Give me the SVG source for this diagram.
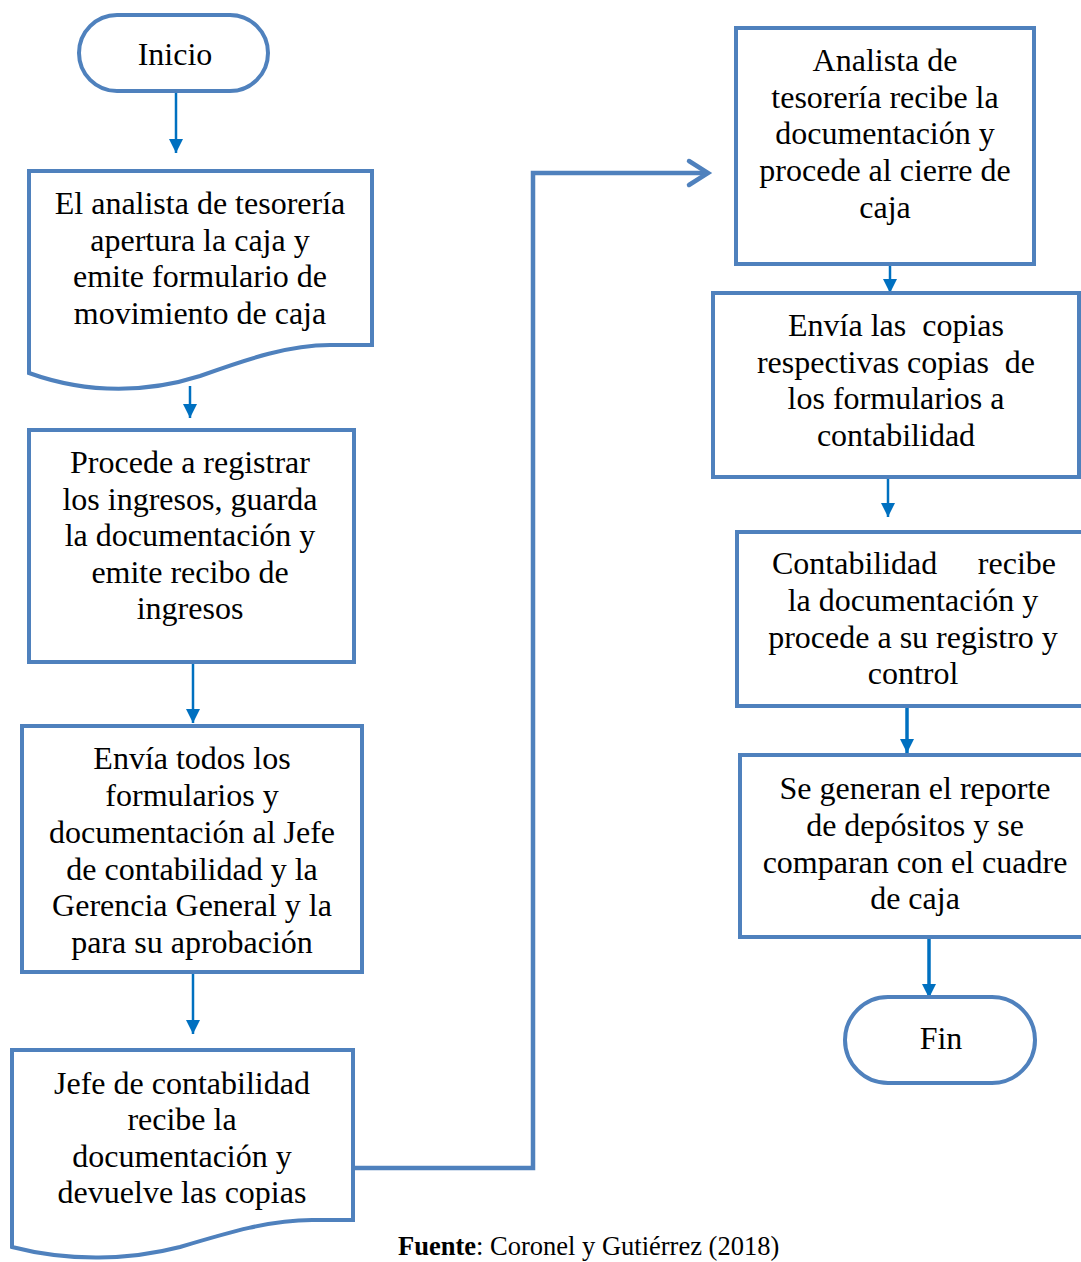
<svg xmlns="http://www.w3.org/2000/svg" width="1081" height="1262" viewBox="0 0 1081 1262">
<style>
.box{fill:#fff;stroke:#4F81BD;stroke-width:4}
.t{font-family:"Liberation Serif","Times New Roman",serif;font-size:32px;fill:#000;text-anchor:middle}
.arr{stroke:#0070C0;stroke-width:2.5;fill:none;marker-end:url(#ah)}
.arrb{stroke:#0070C0;stroke-width:3.5;fill:none;marker-end:url(#ah)}
.conn{stroke:#4F81BD;stroke-width:4.5;fill:none;stroke-linejoin:miter}
.cap{font-family:"Liberation Serif","Times New Roman",serif;font-size:26.5px;fill:#000}
</style>
<defs>
<marker id="ah" markerUnits="userSpaceOnUse" viewBox="0 0 14 14" refX="14" refY="7" markerWidth="14" markerHeight="14" orient="auto">
<path d="M0,0 L14,7 L0,14 z" fill="#0070C0"/>
</marker>
</defs>
<rect width="1081" height="1262" fill="#fff"/>

<g id="connectors">
<line class="arr" x1="176" y1="92" x2="176" y2="153"/>
<line class="arr" x1="190" y1="386" x2="190" y2="418"/>
<line class="arr" x1="193" y1="662" x2="193" y2="723"/>
<line class="arr" x1="193" y1="972" x2="193" y2="1034"/>
<path class="conn" d="M354,1168 H533 V173 H706"/>
<path class="conn" d="M689,161 L708,173 L689,185" stroke-linecap="round" stroke-width="5"/>
<line class="arr" x1="890" y1="264" x2="890" y2="293"/>
<line class="arr" x1="888" y1="477" x2="888" y2="517"/>
<line class="arrb" x1="907" y1="692" x2="907" y2="753"/>
<line class="arrb" x1="929" y1="937" x2="929" y2="998"/>
</g>

<g id="inicio">
<rect class="box" x="79" y="15" width="189" height="76" rx="38" ry="38"/>
<text class="t" x="175" y="65">Inicio</text>
</g>

<g id="apertura">
<path class="box" d="M29,171 H372 V345 H330 C290,345 250,358 200,376 C150,392 90,395 29,373 Z"/>
<text class="t"><tspan x="200" y="214">El analista de tesorería</tspan><tspan x="200" y="251">apertura la caja y</tspan><tspan x="200" y="287">emite formulario de</tspan><tspan x="200" y="324">movimiento de caja</tspan></text>
</g>

<g id="registrar">
<rect class="box" x="29" y="430" width="325" height="232"/>
<text class="t"><tspan x="190" y="473">Procede a registrar</tspan><tspan x="190" y="510">los ingresos, guarda</tspan><tspan x="190" y="546">la documentación y</tspan><tspan x="190" y="583">emite recibo de</tspan><tspan x="190" y="619">ingresos</tspan></text>
</g>

<g id="envia-todos">
<rect class="box" x="22" y="726" width="340" height="246"/>
<text class="t"><tspan x="192" y="769">Envía todos los</tspan><tspan x="192" y="806">formularios y</tspan><tspan x="192" y="843">documentación al Jefe</tspan><tspan x="192" y="880">de contabilidad y la</tspan><tspan x="192" y="916">Gerencia General y la</tspan><tspan x="192" y="953">para su aprobación</tspan></text>
</g>

<g id="jefe">
<path class="box" d="M12,1050 H353 V1220 H312 C270,1220 230,1232 180,1247 C130,1260 70,1262 12,1247 Z"/>
<text class="t"><tspan x="182" y="1094">Jefe de contabilidad</tspan><tspan x="182" y="1130">recibe la</tspan><tspan x="182" y="1167">documentación y</tspan><tspan x="182" y="1203">devuelve las copias</tspan></text>
</g>

<g id="cierre">
<rect class="box" x="736" y="28" width="298" height="236"/>
<text class="t"><tspan x="885" y="71">Analista de</tspan><tspan x="885" y="108">tesorería recibe la</tspan><tspan x="885" y="144">documentación y</tspan><tspan x="885" y="181">procede al cierre de</tspan><tspan x="885" y="218">caja</tspan></text>
</g>

<g id="envia-copias">
<rect class="box" x="713" y="293" width="366" height="184"/>
<text class="t" xml:space="preserve"><tspan x="896" y="336">Envía las  copias</tspan><tspan x="896" y="373">respectivas copias  de</tspan><tspan x="896" y="409">los formularios a</tspan><tspan x="896" y="446">contabilidad</tspan></text>
</g>

<g id="contabilidad">
<rect class="box" x="737" y="532" width="350" height="174"/>
<text class="t"><tspan x="772" y="574" text-anchor="start">Contabilidad</tspan><tspan x="1056" y="574" text-anchor="end">recibe</tspan><tspan x="913" y="611">la documentación y</tspan><tspan x="913" y="648">procede a su registro y</tspan><tspan x="913" y="684">control</tspan></text>
</g>

<g id="reporte">
<rect class="box" x="740" y="755" width="347" height="182"/>
<text class="t"><tspan x="915" y="799">Se generan el reporte</tspan><tspan x="915" y="836">de depósitos y se</tspan><tspan x="915" y="873">comparan con el cuadre</tspan><tspan x="915" y="909">de caja</tspan></text>
</g>

<g id="fin">
<rect class="box" x="845" y="997" width="190" height="86" rx="43" ry="43"/>
<text class="t" x="941" y="1049">Fin</text>
</g>

<text class="cap" x="398" y="1255"><tspan font-weight="bold">Fuente</tspan>: Coronel y Gutiérrez (2018)</text>
</svg>
